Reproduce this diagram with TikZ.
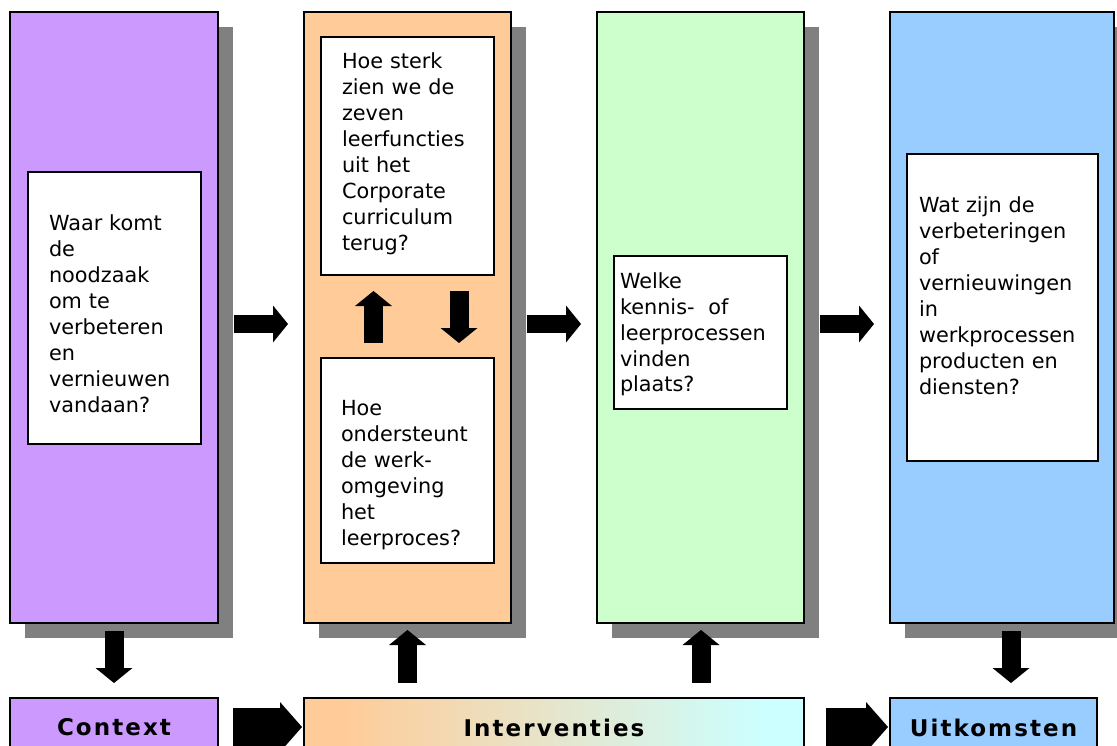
\documentclass[tikz,border=0pt]{standalone}
\usepackage{fontspec}
\setmainfont{DejaVu Sans}
\usetikzlibrary{arrows.meta,shadows}

\definecolor{colpurple}{HTML}{CC99FF}
\definecolor{colorange}{HTML}{FFCC99}
\definecolor{colgreen}{HTML}{CCFFCC}
\definecolor{colblue}{HTML}{99CCFF}
\definecolor{colcyan}{HTML}{CCFFFF}
\definecolor{shadowgray}{HTML}{808080}

% orange-to-cyan fill of the interventions bar
\pgfdeclarehorizontalshading{intervshade}{100bp}{%
  color(0bp)=(colorange); color(29bp)=(colorange);
  color(71bp)=(colcyan); color(100bp)=(colcyan)}

\begin{document}
\begin{tikzpicture}[x=1pt,y=-1pt,
  every node/.style={inner sep=0pt, outer sep=0pt},
  panel/.style={draw=black, line width=1.5pt, anchor=north west,
    drop shadow={shadow xshift=15pt, shadow yshift=-15pt, fill=shadowgray, opacity=1}},
  qbox/.style={draw=black, line width=1.5pt, fill=white, anchor=north west},
  qtext/.style={anchor=base west, align=left, text width=200pt,
    font=\fontsize{20.8}{26}\selectfont},
  labelbox/.style={draw=black, line width=1.5pt, anchor=north west, minimum height=59pt,
    font=\fontsize{23}{26}\selectfont\bfseries\addfontfeatures{LetterSpace=9}},
  blockarrow/.style={line width=19pt, -{Triangle[length=15pt,width=37pt,line width=0pt]}},
  bigarrow/.style={line width=38pt, -{Triangle[length=22pt,width=50pt,line width=0pt]}},
]
\useasboundingbox (0,0) rectangle (1117,746);
\clip (0,0) rectangle (1117,746);

% the four columns
\node[panel, fill=colpurple, minimum width=208pt, minimum height=611pt] (ctxcol) at (10,12) {};
\node[panel, fill=colorange, minimum width=207pt, minimum height=611pt] (intcol) at (304,12) {};
\node[panel, fill=colgreen,  minimum width=207pt, minimum height=611pt] (lrncol) at (597,12) {};
\node[panel, fill=colblue,   minimum width=224pt, minimum height=611pt] (outcol) at (890,12) {};

% question boxes
\node[qbox, minimum width=173pt, minimum height=272pt] (q1) at (28,172) {};
\node[qtext] at (49,230.7) {Waar komt\\de\\noodzaak\\om te\\verbeteren\\en\\vernieuwen\\vandaan?};

\node[qbox, minimum width=173pt, minimum height=238pt] (q2a) at (321,37) {};
\node[qtext] at (342,69) {Hoe sterk\\zien we de\\zeven\\leerfuncties\\uit het\\Corporate\\curriculum\\terug?};

\node[qbox, minimum width=173pt, minimum height=205pt] (q2b) at (321,358) {};
\node[qtext] at (341,415.7) {Hoe\\ondersteunt\\de werk-\\omgeving\\het\\leerproces?};

\node[qbox, minimum width=173pt, minimum height=153pt] (q3) at (614,256) {};
\node[qtext] at (620,288) {Welke\\kennis-~ of\\leerprocessen\\vinden\\plaats?};

\node[qbox, minimum width=191pt, minimum height=307pt] (q4) at (907,154) {};
\node[qtext] at (919,212.7) {Wat zijn de\\verbeteringen\\of\\vernieuwingen\\in\\werkprocessen\\producten en\\diensten?};

% bottom labels
\node[labelbox, fill=colpurple, minimum width=208pt] (ctx) at (10,698) {Context};
\node[labelbox, shade, shading=intervshade, minimum width=500pt] (intv) at (304,698) {Interventies};
\node[labelbox, fill=colblue, minimum width=207pt] (outc) at (890,698) {Uitkomsten};

% arrow end points
\coordinate (h1s) at (234,324);  \coordinate (h1e) at (288,324);
\coordinate (h2s) at (527,324);  \coordinate (h2e) at (581,324);
\coordinate (h3s) at (820,324);  \coordinate (h3e) at (874,324);
\coordinate (upS) at (373.5,343); \coordinate (upE) at (373.5,291);
\coordinate (dnS) at (459,291);   \coordinate (dnE) at (459,343);
\coordinate (v1s) at (114,631);   \coordinate (v1e) at (114,683);
\coordinate (v2s) at (407.5,683); \coordinate (v2e) at (407.5,630);
\coordinate (v3s) at (701,683);   \coordinate (v3e) at (701,630);
\coordinate (v4s) at (1011,631);  \coordinate (v4e) at (1011,683);
\coordinate (b1s) at (233,727);   \coordinate (b1e) at (302,727);
\coordinate (b2s) at (826,727);   \coordinate (b2e) at (888,727);

% arrows between the columns
\draw[blockarrow, line width=18pt] (h1s) -- (h1e);
\draw[blockarrow, line width=18pt] (h2s) -- (h2e);
\draw[blockarrow, line width=18pt] (h3s) -- (h3e);

% arrows inside the interventions column
\draw[blockarrow] (upS) -- (upE);
\draw[blockarrow] (dnS) -- (dnE);

% arrows between columns and labels
\draw[blockarrow] (v1s) -- (v1e);
\draw[blockarrow] (v2s) -- (v2e);
\draw[blockarrow] (v3s) -- (v3e);
\draw[blockarrow] (v4s) -- (v4e);

% arrows between the labels
\draw[bigarrow] (b1s) -- (b1e);
\draw[bigarrow] (b2s) -- (b2e);
\end{tikzpicture}
\end{document}
